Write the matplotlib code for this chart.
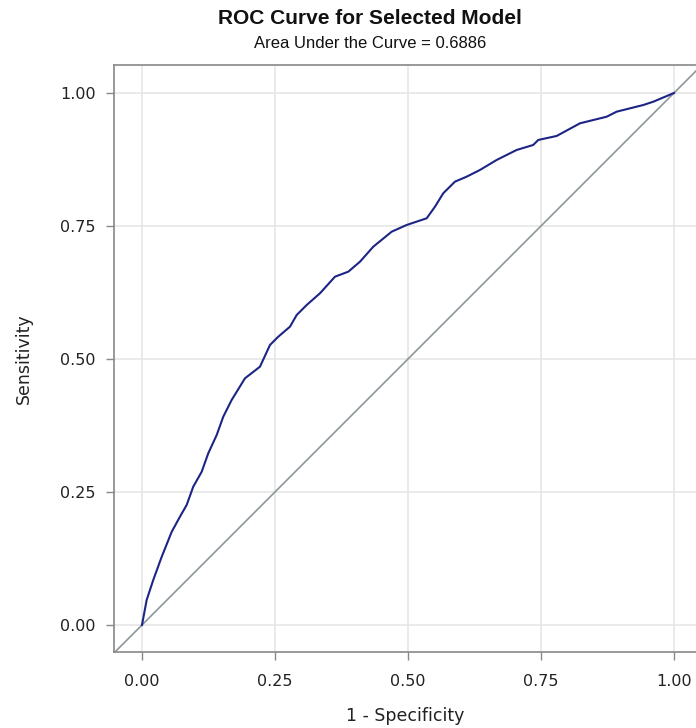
import numpy as np
import matplotlib.pyplot as plt

# ROC points (1 - specificity, sensitivity)
fpr = [0.0, 0.0088, 0.0212, 0.037, 0.0558, 0.0714, 0.084, 0.0964, 0.1122, 0.1246,
       0.1404, 0.1528, 0.1686, 0.1936, 0.2218, 0.2406, 0.2562, 0.2782, 0.2908, 0.3096,
       0.3346, 0.3628, 0.3878, 0.4098, 0.4348, 0.4694, 0.4976, 0.5352, 0.5508, 0.5663,
       0.5883, 0.6103, 0.6353, 0.6667, 0.7043, 0.7355, 0.7449, 0.7795, 0.8233, 0.8735,
       0.8923, 0.9423, 0.9611, 1.0]
tpr = [0.0, 0.047, 0.0846, 0.128, 0.175, 0.2036, 0.2256, 0.26, 0.288, 0.3227,
       0.357, 0.3915, 0.423, 0.4637, 0.4855, 0.5263, 0.5419, 0.5607, 0.5827, 0.6015,
       0.6235, 0.6547, 0.6641, 0.6829, 0.7111, 0.7393, 0.7519, 0.7645, 0.7863, 0.8115,
       0.8333, 0.8427, 0.8553, 0.8741, 0.8929, 0.9023, 0.9117, 0.9192, 0.943, 0.9554,
       0.9649, 0.9774, 0.9836, 1.0]
ticks = [0.0, 0.25, 0.5, 0.75, 1.0]
tick_labels = ['0.00', '0.25', '0.50', '0.75', '1.00']
auc = 0.6886

fig = plt.figure(figsize=(6.96, 7.28), dpi=100)
ax = fig.add_axes([114/696, 76/728, 582/696, 587/728])

ax.plot([-0.1, 1.1], [-0.1, 1.1], color='#8e969a', lw=1.2, zorder=2)
ax.plot(fpr, tpr, color='#1c2585', lw=1.5, zorder=3)

ax.set_xlim(-0.0526, 1.0414)
ax.set_ylim(-0.0508, 1.0526)
ax.set_xticks(ticks)
ax.set_xticklabels(tick_labels)
ax.set_yticks(ticks)
ax.set_yticklabels(tick_labels)
ax.grid(True, color='#e4e4e4', lw=1.1)
ax.set_axisbelow(True)
ax.tick_params(direction='out', length=6, width=1, color='#888888', labelsize=11.5,
               labelcolor='#222222', pad=7)
ax.tick_params(axis='x', pad=10)
for s in ['left', 'bottom', 'top']:
    ax.spines[s].set_color('#888888')
    ax.spines[s].set_linewidth(1.2)
ax.spines['right'].set_visible(False)

ax.set_xlabel('1 - Specificity', fontsize=12.5, color='#222222', labelpad=13)
ax.set_ylabel('Sensitivity', fontsize=12.5, color='#222222', labelpad=20)

fig.text(370/696, 1 - 18/728, 'ROC Curve for Selected Model', ha='center', va='center',
         fontsize=15, fontweight='bold', family='Liberation Sans', color='#111111')
fig.text(370/696, 1 - 44/728, 'Area Under the Curve = %.4f' % auc, ha='center', va='center',
         fontsize=12, family='Liberation Sans', color='#111111')

fig.savefig('out.png', dpi=100)
